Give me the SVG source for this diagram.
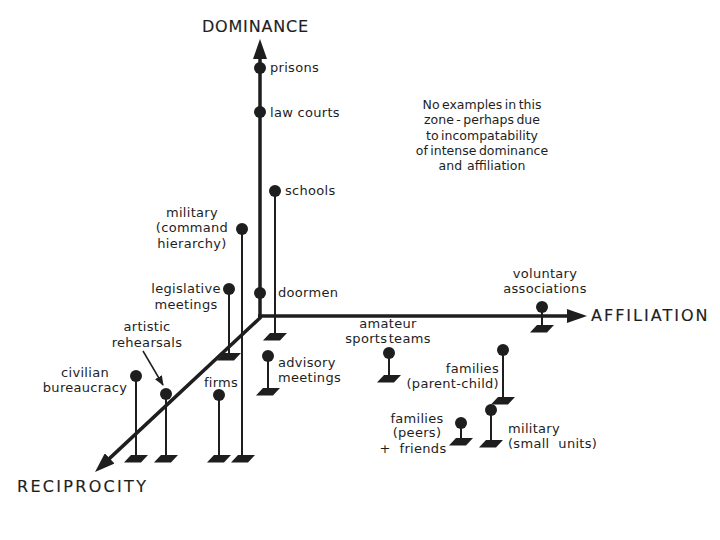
<svg xmlns="http://www.w3.org/2000/svg" width="720" height="540" viewBox="0 0 720 540">
<style>
.lbl{font-family:"DejaVu Sans","Liberation Sans",sans-serif;font-size:13px;letter-spacing:0.3px;fill:#1e1e1e;white-space:pre}
.mid{text-anchor:middle}
.end{text-anchor:end}
.axis-t{font-family:"DejaVu Sans","Liberation Sans",sans-serif;font-size:16px;fill:#1e1e1e;stroke:#1e1e1e;stroke-width:0.15}
.note{font-family:"DejaVu Sans","Liberation Sans",sans-serif;font-size:12.5px;fill:#1e1e1e;text-anchor:middle;word-spacing:-1.5px;white-space:pre}
.axis{stroke:#1e1e1e;stroke-width:3.5;fill:none}
.stem{stroke:#1e1e1e;stroke-width:2;fill:none}
.dot{fill:#1e1e1e}
.thin{stroke:#1e1e1e;stroke-width:1.5;fill:none}
</style>
<defs>
<marker id="ah" viewBox="0 0 20 14" refX="14" refY="7" markerWidth="20" markerHeight="14" markerUnits="userSpaceOnUse" orient="auto">
<path d="M0,0 L20,7 L0,14 Z" fill="#1e1e1e"/>
</marker>
<marker id="sah" viewBox="0 0 10 8" refX="9" refY="4" markerWidth="10" markerHeight="8" markerUnits="userSpaceOnUse" orient="auto">
<path d="M0,0 L10,4 L0,8 Z" fill="#1e1e1e"/>
</marker>
<path id="base" d="M-5,0 L12,0 L5,7.5 L-12,7.5 Z" fill="#1e1e1e"/>
</defs>
<rect width="720" height="540" fill="#ffffff"/>

<g id="connectors">
<line class="axis" x1="260" y1="318" x2="260" y2="45" marker-end="url(#ah)"/>
<line class="axis" x1="258" y1="316" x2="581" y2="316" marker-end="url(#ah)"/>
<line class="axis" x1="261" y1="317" x2="99.4" y2="467.9" marker-end="url(#ah)"/>
<line class="thin" x1="143" y1="351" x2="163" y2="385" marker-end="url(#sah)"/>
</g>

<g id="axis-labels">
<text class="axis-t" x="202" y="32" letter-spacing="0.8">DOMINANCE</text>
<text class="axis-t" x="591" y="321" letter-spacing="2">AFFILIATION</text>
<text class="axis-t" x="17" y="492" letter-spacing="2.3">RECIPROCITY</text>
</g>

<g id="note">
<text class="note" x="482" y="109">No examples in this</text>
<text class="note" x="482" y="124">zone - perhaps due</text>
<text class="note" x="482" y="140">to incompatability</text>
<text class="note" x="482" y="155">of intense dominance</text>
<text class="note" x="482" y="170">and  affiliation</text>
</g>

<g id="prisons">
<circle class="dot" cx="260" cy="68" r="6"/>
<text class="lbl" x="270" y="72">prisons</text>
</g>

<g id="law-courts">
<circle class="dot" cx="260" cy="112" r="6"/>
<text class="lbl" x="270" y="117">law courts</text>
</g>

<g id="schools">
<line class="stem" x1="275" y1="191" x2="275" y2="334"/>
<circle class="dot" cx="275" cy="191" r="6"/>
<use href="#base" x="275" y="333"/>
<text class="lbl" x="285" y="195">schools</text>
</g>

<g id="military-command">
<line class="stem" x1="242" y1="229" x2="242" y2="456"/>
<circle class="dot" cx="242" cy="229" r="6"/>
<use href="#base" x="243" y="455"/>
<text class="lbl mid" x="192" y="217">military</text>
<text class="lbl mid" x="192" y="232">(command</text>
<text class="lbl mid" x="192" y="248">hierarchy)</text>
</g>

<g id="legislative">
<line class="stem" x1="229" y1="289" x2="229" y2="354"/>
<circle class="dot" cx="229" cy="289" r="6"/>
<use href="#base" x="229" y="353"/>
<text class="lbl mid" x="186" y="293">legislative</text>
<text class="lbl mid" x="186" y="309">meetings</text>
</g>

<g id="doormen">
<circle class="dot" cx="260" cy="293" r="6"/>
<text class="lbl" x="278" y="297">doormen</text>
</g>

<g id="artistic">
<line class="stem" x1="166" y1="394" x2="166" y2="456"/>
<circle class="dot" cx="166" cy="394" r="6"/>
<use href="#base" x="166" y="455"/>
<text class="lbl mid" x="147" y="331">artistic</text>
<text class="lbl mid" x="147" y="347">rehearsals</text>
</g>

<g id="civilian">
<line class="stem" x1="136" y1="376" x2="136" y2="456"/>
<circle class="dot" cx="136" cy="376" r="6"/>
<use href="#base" x="136" y="455"/>
<text class="lbl mid" x="85" y="377">civilian</text>
<text class="lbl mid" x="85" y="392">bureaucracy</text>
</g>

<g id="firms">
<line class="stem" x1="219" y1="395" x2="219" y2="456"/>
<circle class="dot" cx="219" cy="395" r="6"/>
<use href="#base" x="219" y="455"/>
<text class="lbl mid" x="221" y="387">firms</text>
</g>

<g id="advisory">
<line class="stem" x1="268" y1="356" x2="268" y2="389"/>
<circle class="dot" cx="268" cy="356" r="6"/>
<use href="#base" x="268" y="388"/>
<text class="lbl" x="278" y="367">advisory</text>
<text class="lbl" x="278" y="382">meetings</text>
</g>

<g id="amateur">
<line class="stem" x1="389" y1="353" x2="389" y2="376"/>
<circle class="dot" cx="389" cy="353" r="6"/>
<use href="#base" x="389" y="375"/>
<text class="lbl mid" x="388" y="328">amateur</text>
<text class="lbl mid" x="388" y="343" word-spacing="-3">sports teams</text>
</g>

<g id="voluntary">
<line class="stem" x1="542" y1="307" x2="542" y2="326"/>
<circle class="dot" cx="542" cy="307" r="6"/>
<use href="#base" x="542" y="325"/>
<text class="lbl mid" x="545" y="278">voluntary</text>
<text class="lbl mid" x="545" y="293">associations</text>
</g>

<g id="families-parent">
<line class="stem" x1="503" y1="350" x2="503" y2="398"/>
<circle class="dot" cx="503" cy="350" r="6"/>
<use href="#base" x="503" y="397"/>
<text class="lbl end" x="499" y="373">families</text>
<text class="lbl end" x="499" y="388">(parent-child)</text>
</g>

<g id="families-peers">
<line class="stem" x1="461" y1="423" x2="461" y2="439"/>
<circle class="dot" cx="461" cy="423" r="6"/>
<use href="#base" x="461" y="438"/>
<text class="lbl mid" x="417" y="423">families</text>
<text class="lbl mid" x="417" y="437">(peers)</text>
<text class="lbl mid" x="413" y="453">+  friends</text>
</g>

<g id="military-small">
<line class="stem" x1="491" y1="410" x2="491" y2="441"/>
<circle class="dot" cx="491" cy="410" r="6"/>
<use href="#base" x="491" y="440"/>
<text class="lbl" x="508" y="433">military</text>
<text class="lbl" x="508" y="448">(small  units)</text>
</g>
</svg>
